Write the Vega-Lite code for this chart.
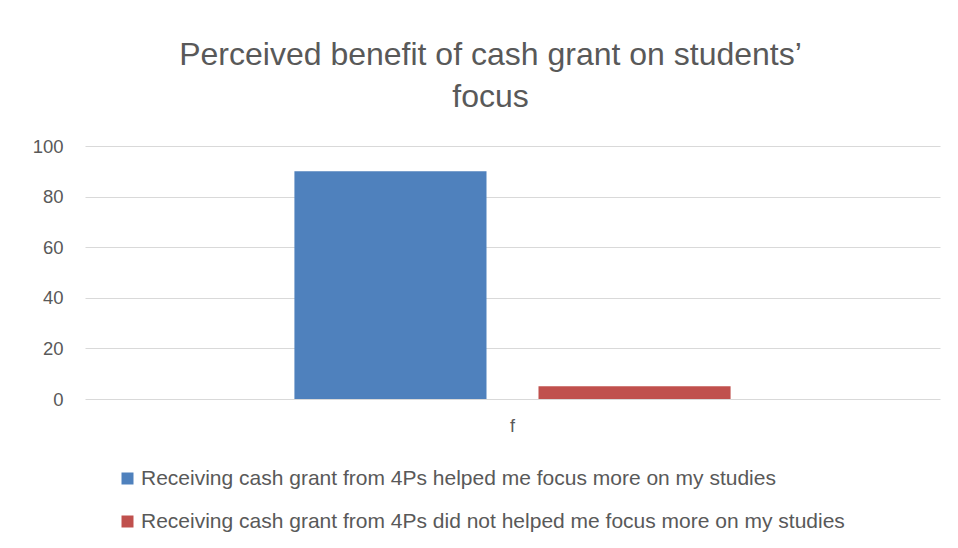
{
  "$schema": "https://vega.github.io/schema/vega-lite/v6.json",
  "autosize": "none",
  "padding": {"left": 85, "top": 146, "right": 18, "bottom": 149},
  "width": 855,
  "height": 253,
  "background": "white",
  "title": {
    "text": ["Perceived benefit of cash grant on students’", "focus"],
    "anchor": "middle",
    "dx": -22,
    "offset": 23,
    "fontSize": 32,
    "font": "Liberation Sans",
    "fontWeight": "normal",
    "color": "#595959",
    "lineHeight": 42
  },
  "data": {
    "values": [
      {"group": "f", "series": "Receiving cash grant from 4Ps helped me focus more on my studies", "value": 90},
      {"group": "f", "series": "Receiving cash grant from 4Ps did not helped me focus more on my studies", "value": 5}
    ]
  },
  "mark": {"type": "bar"},
  "encoding": {
    "x": {
      "field": "group", "type": "nominal",
      "scale": {"paddingInner": 0, "paddingOuter": 0},
      "axis": {"title": null, "domain": false, "ticks": false, "labelAngle": 0, "labelFontSize": 18, "labelFont": "Liberation Sans", "labelColor": "#595959", "labelPadding": 18}
    },
    "xOffset": {
      "field": "series", "type": "nominal",
      "sort": ["Receiving cash grant from 4Ps helped me focus more on my studies", "Receiving cash grant from 4Ps did not helped me focus more on my studies"],
      "scale": {"paddingInner": 0.213, "paddingOuter": 0.858}
    },
    "y": {
      "field": "value", "type": "quantitative",
      "scale": {"domain": [0, 100]},
      "axis": {"title": null, "values": [0, 20, 40, 60, 80, 100], "domain": false, "ticks": false, "labelFontSize": 18.5, "labelFont": "Liberation Sans", "labelColor": "#595959", "labelPadding": 22, "gridColor": "#d9d9d9", "gridWidth": 1.2}
    },
    "color": {
      "field": "series", "type": "nominal",
      "sort": ["Receiving cash grant from 4Ps helped me focus more on my studies", "Receiving cash grant from 4Ps did not helped me focus more on my studies"],
      "scale": {"range": ["#4f81bd", "#c0504d"]},
      "legend": {
        "title": null, "orient": "none", "legendX": 32, "legendY": 322,
        "direction": "vertical", "symbolType": "square", "symbolSize": 144,
        "labelFontSize": 21, "labelFont": "Liberation Sans", "labelColor": "#595959",
        "labelOffset": 3, "rowPadding": 21, "labelLimit": 900, "symbolStrokeWidth": 0
      }
    }
  },
  "config": {"view": {"stroke": null}}
}
